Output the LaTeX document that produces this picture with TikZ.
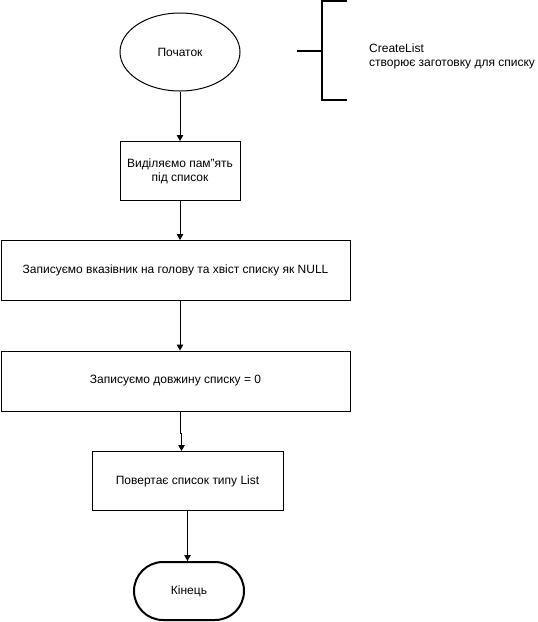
\documentclass[tikz,border=0pt]{standalone}
\usepackage{fontspec}
\setmainfont{Liberation Sans}
\usetikzlibrary{shapes.geometric,arrows.meta}
\begin{document}
\begin{tikzpicture}[x=1pt,y=-1pt,
  every node/.style={font=\fontsize{12}{14}\selectfont, inner sep=0pt},
  procbox/.style={draw, line width=1pt, rectangle, align=center},
  startnode/.style={draw, line width=1pt, ellipse, minimum width=120pt, minimum height=78pt},
  endnode/.style={draw, line width=2pt, rectangle, rounded corners=29pt, minimum width=110pt, minimum height=58pt},
  flow/.style={line width=1pt, -{Triangle[width=6.5pt,length=6pt]}},
  brace/.style={line width=2pt}]
\useasboundingbox (0,0) rectangle (538,622);

% flowchart blocks
\node[startnode] (start) at (180,52) {Початок};
\node[procbox, minimum width=120pt, minimum height=59pt] (alloc) at (180,171) {Виділяємо пам"ять\\під список};
\node[procbox, minimum width=349pt, minimum height=60pt] (ptrs) at (175.5,270.5) {Записуємо вказівник на голову та хвіст списку як NULL};
\node[procbox, minimum width=349pt, minimum height=60pt] (len) at (175.5,381) {Записуємо довжину списку = 0};
\node[procbox, minimum width=191pt, minimum height=59pt] (ret) at (187.5,481) {Повертає список типу List};
\node[endnode] (finish) at (189,591) {Кінець};

% comment block with bracket
\node[anchor=west, align=left] (note) at (369,56) {CreateList\\створює заготовку для списку};
\draw[brace] (347,1) -- (322,1) -- (322,100) -- (347,100);
\draw[brace] (297,51) -- (322,51);

% small jog in the connector between the last two process blocks
\coordinate (jog) at (181.5,433);

% connectors
\draw[flow] (start.south) -- (alloc.north);
\draw[flow] (alloc.south) -- (alloc.south |- ptrs.north);
\draw[flow] (ptrs.south -| alloc.south) -- (len.north -| alloc.south);
\draw[flow] (len.south -| alloc.south) -- (jog -| alloc.south) -- (jog) -- (jog |- ret.north);
\draw[flow] (ret.south) -- (ret.south |- finish.north);
\end{tikzpicture}
\end{document}
